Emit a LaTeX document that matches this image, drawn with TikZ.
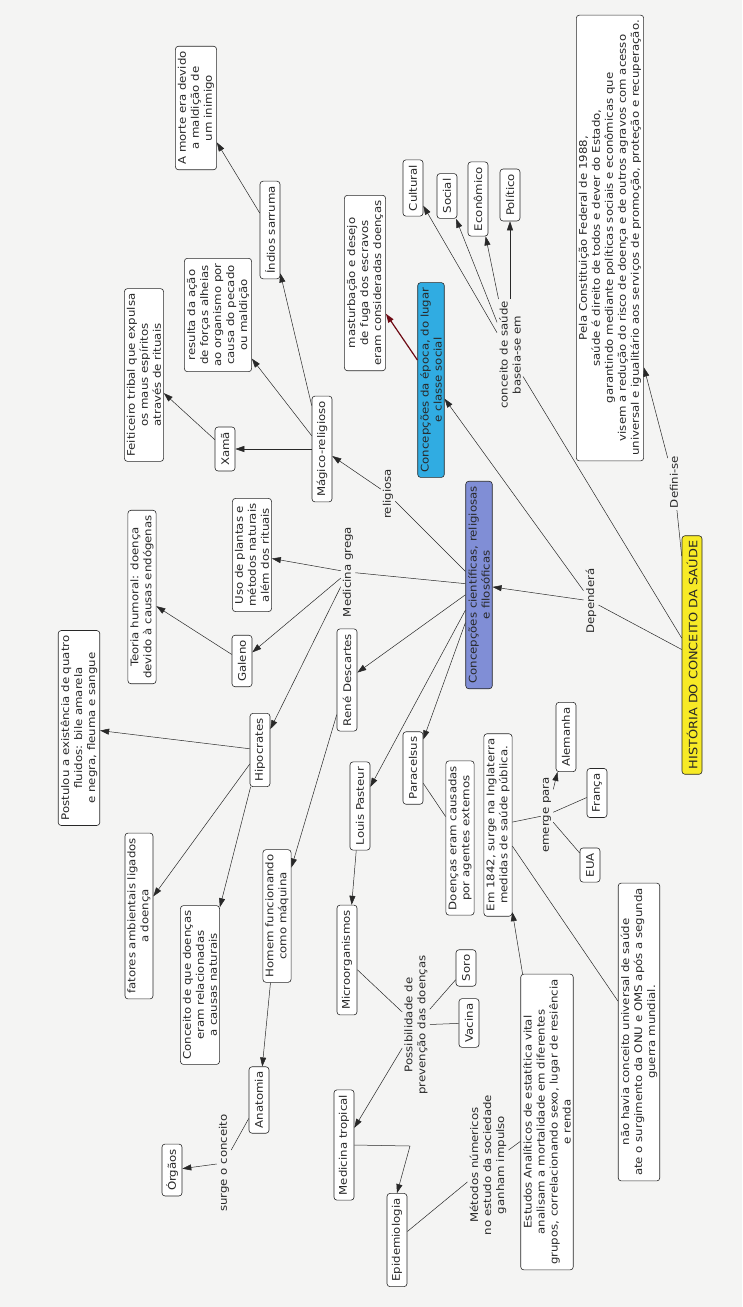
\documentclass[tikz,border=0pt]{standalone}
\usepackage{fontspec}
\setmainfont{DejaVu Sans}[FakeStretch=1.12]
\usetikzlibrary{arrows.meta}
\definecolor{amarelo}{RGB}{247,234,38}
\definecolor{ciano}{RGB}{48,172,226}
\definecolor{lilas}{RGB}{128,142,214}
\definecolor{papel}{RGB}{244,244,243}
\definecolor{traco}{RGB}{40,40,40}
\definecolor{vinho}{RGB}{110,10,20}
\tikzset{
	caixa/.style={draw=traco,line width=.6pt,rounded corners=3pt,fill=white,rotate=90,
		align=center,inner xsep=5pt,inner ysep=2.5pt,minimum height=20pt,
		font=\fontsize{10.5}{13}\selectfont,text=traco},
	frase/.style={rotate=90,align=center,inner sep=2pt,font=\fontsize{10.5}{13}\selectfont,text=traco},
	seta/.style={draw=traco,line width=.5pt,-{Triangle[length=9pt,width=6pt]}},
	liga/.style={draw=traco,line width=.5pt},
}
\begin{document}
\begin{tikzpicture}[x=1pt,y=-1pt]
	\fill[papel] (0,0) rectangle (742,1307);
	\useasboundingbox (0,0) rectangle (742,1307);
	%% centro
	\node[caixa,fill=amarelo,font=\fontsize{11.5}{13}\selectfont] (a0) at (692,655) {HISTÓRIA DO CONCEITO DA SAÚDE};
	\node[frase] (a1) at (674,482) {Defini-se};
	\node[caixa] (a2) at (610,238) {Pela Constituição Federal de 1988,\\saúde é direito de todos e dever do Estado,\\garantindo mediante políticas sociais e econômicas que\\visem a redução do risco de doença e de outros agravos com acesso\\universal e igualitário aos serviços de promoção, proteção e recuperação.};
	\node[frase] (a3) at (591,601) {Dependerá};
	\node[frase] (a4) at (510,355) {conceito de saúde\\baseia-se em};
	\node[caixa] (a5) at (413,188) {Cultural};
	\node[caixa] (a6) at (447,196) {Social};
	\node[caixa] (a7) at (478,199) {Econômico};
	\node[caixa] (a8) at (510,195) {Político};
	\node[caixa,fill=ciano] (a9) at (431,380) {Concepções da época, do lugar\\e classe social};
	\node[caixa] (a10) at (365,283) {masturbação e desejo\\de fuga dos escravos\\eram consideradas doenças};
	\node[caixa,fill=lilas] (a11) at (479,585) {Concepções científicas, religiosas\\e filosóficas};
	%% magico-religioso
	\node[frase] (b0) at (388,494) {religiosa};
	\node[caixa] (b1) at (322,449) {Mágico-religioso};
	\node[caixa] (b2) at (270,230) {Índios sarruma};
	\node[caixa] (b3) at (196,108) {A morte era devido\\a maldição de\\um inimigo};
	\node[caixa] (b4) at (218,315) {resulta da ação\\de forças alheias\\ao organismo por\\causa do pecado\\ou maldição};
	\node[caixa] (b5) at (225,449) {Xamã};
	\node[caixa] (b6) at (144,375) {Feiticeiro tribal que expulsa\\os maus espíritos\\através de rituais};
	%% medicina grega
	\node[frase] (c0) at (348,572) {Medicina grega};
	\node[caixa] (c1) at (252,555) {Uso de plantas e\\métodos naturais\\além dos rituais};
	\node[caixa] (c2) at (242,661) {Galeno};
	\node[caixa] (c3) at (142,597) {Teoria humoral: doença\\devido à causas endógenas};
	\node[caixa] (c4) at (260,750) {Hipocrates};
	\node[caixa] (c5) at (79,728) {Postulou a existência de quatro\\fluidos: bile amarela\\e negra, fleuma e sangue};
	\node[caixa] (c6) at (139,916) {fatores ambientais ligados\\a doença};
	\node[caixa] (c7) at (200,985) {Conceito de que doenças\\eram relacionadas\\a causas naturais};
	%% descartes
	\node[caixa] (d0) at (347,680) {René Descartes};
	\node[caixa] (d1) at (277,916) {Homem funcionando\\como máquina};
	\node[caixa] (d2) at (259,1100) {Anatomia};
	\node[frase] (d3) at (224,1163) {surge o conceito};
	\node[caixa] (d4) at (172,1170) {Órgãos};
	%% pasteur
	\node[caixa] (e0) at (360,806) {Louis Pasteur};
	\node[caixa] (e1) at (347,960) {Microorganismos};
	\node[frase] (e2) at (416,1025) {Possibilidade de\\prevenção das doenças};
	\node[caixa] (e3) at (466,968) {Soro};
	\node[caixa] (e4) at (469,1023) {Vacina};
	\node[caixa] (e5) at (344,1145) {Medicina tropical};
	\node[caixa] (e6) at (397,1240) {Epidemiologia};
	\node[frase] (e7) at (488,1165) {Métodos númericos\\no estudo da sociedade\\ganham impulso};
	\node[caixa] (e8) at (547,1122) {Estudos Analíticos de estatítica vital\\analisam a mortalidade em diferentes\\grupos, correlacionando sexo, lugar de resiência\\e renda};
	\coordinate (e9) at (410,1146);
	%% paracelsus e 1842
	\node[caixa] (f0) at (413,768) {Paracelsus};
	\node[caixa] (f1) at (460,838) {Doenças eram causadas\\por agentes externos};
	\node[caixa] (f2) at (498,825) {Em 1842, surge na Inglaterra\\medidas de saúde pública.};
	\node[frase] (f3) at (547,815) {emerge para};
	\node[caixa] (f4) at (566,737) {Alemanha};
	\node[caixa] (f5) at (597,793) {França};
	\node[caixa] (f6) at (590,865) {EUA};
	\node[caixa] (f7) at (639,1032) {não havia conceito universal de saúde\\ate o surgimento da ONU e OMS após a segunda\\guerra mundial.};
	% ligacoes
	\draw[liga] (a0) -- (a1);
	\draw[seta] (a1) -- (a2);
	\draw[liga] (a0) -- (a3);
	\draw[seta] (a3) -- (a11);
	\draw[seta] (a3) -- (a9);
	\draw[liga] (a0) -- (a4);
	\foreach \n in {a5,a6,a7,a8}
		\draw[seta] (a4) -- (\n);
	\draw[seta,draw=vinho,line width=1.2pt] (a9) -- (a10);
	\draw[liga] (a11) -- (b0);
	\draw[seta] (b0) -- (b1);
	\draw[seta] (b1) -- (b2);
	\draw[seta] (b2) -- (b3);
	\draw[seta] (b1) -- (b4);
	\draw[seta] (b1) -- (b5);
	\draw[seta] (b5) -- (b6);
	\draw[liga] (a11) -- (c0);
	\draw[seta] (c0) -- (c1);
	\draw[seta] (c0) -- (c2);
	\draw[seta] (c0) -- (c4);
	\draw[seta] (c2) -- (c3);
	\foreach \n in {c5,c6,c7}
		\draw[seta] (c4) -- (\n);
	\draw[seta] (a11) -- (d0);
	\draw[seta] (d0) -- (d1);
	\draw[seta] (d1) -- (d2);
	\draw[liga] (d2) -- (d3);
	\draw[seta] (d3) -- (d4);
	\draw[seta] (a11) -- (e0);
	\draw[seta] (e0) -- (e1);
	\draw[liga] (e1) -- (e2);
	\draw[liga] (e2) -- (e3);
	\draw[liga] (e2) -- (e4);
	\draw[seta] (e2) -- (e5);
	\draw[seta] (e5.south) -- (e9) -- (e6.east);
	\draw[liga] (e6) -- (e7);
	\draw[liga] (e7) -- (e8);
	\draw[seta] (e8) -- (f2);
	\draw[seta] (a11) -- (f0);
	\draw[liga] (f0) -- (f1);
	\draw[liga] (f2) -- (f3);
	\draw[seta] (f3) -- (f4);
	\draw[liga] (f3) -- (f5);
	\draw[liga] (f3) -- (f6);
	\draw[liga] (f2) -- (f7);
\end{tikzpicture}
\end{document}
